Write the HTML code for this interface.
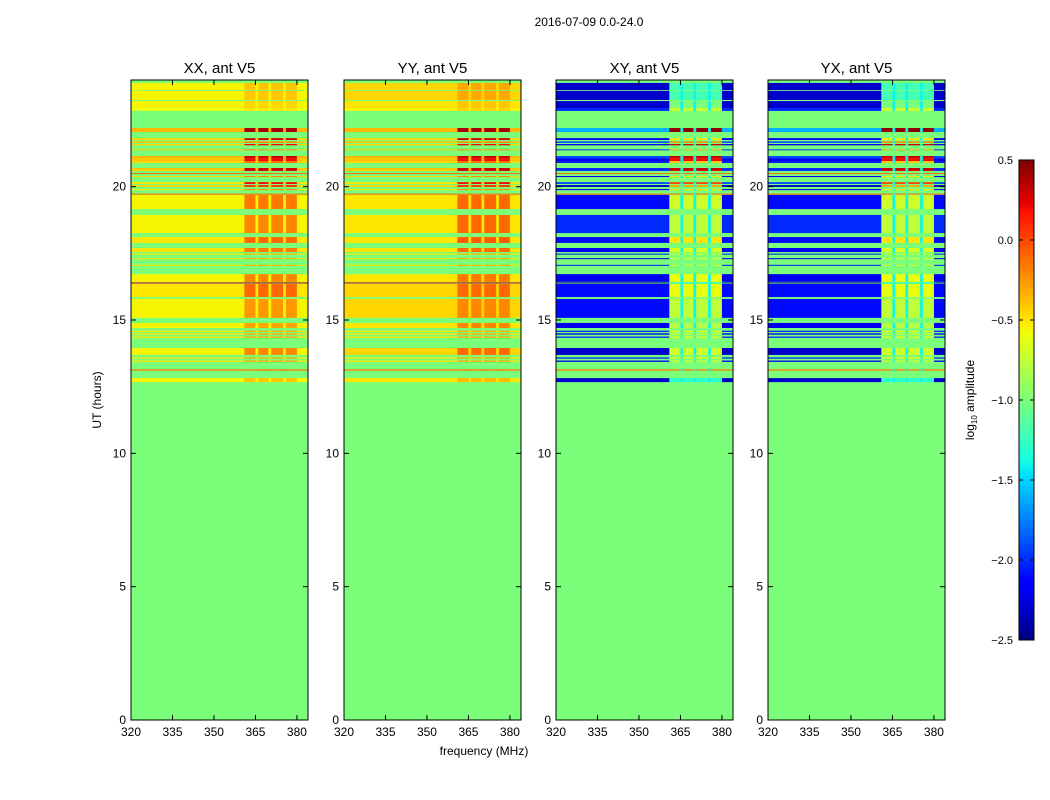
<!DOCTYPE html>
<html><head><meta charset="utf-8"><style>
body{margin:0;background:#fff;}
svg{display:block;font-family:"Liberation Sans",sans-serif;}
</style></head><body>
<svg id="chart" width="1050" height="800">
<rect width="1050" height="800" fill="#fff"/>
<text x="589" y="26" font-size="12" text-anchor="middle">2016-07-09 0.0-24.0</text>
<g id="panels"></g>
<g id="cbar"></g>
</svg>
<script>
// ----- data -----
const panelTitles = ["XX, ant V5","YY, ant V5","XY, ant V5","YX, ant V5"];
const xTicks = [320,335,350,365,380];
const yTicks = [0,5,10,15,20];
const cbarTicks = [0.5,0.0,-0.5,-1.0,-1.5,-2.0,-2.5];
const rowStart = [23.62,23.25,22.95,22.84,22.05,21.75,21.64,21.55,21.37,21.07,20.96,20.89,20.59,20.48,20.36,20.10,19.99,19.87,19.70,19.16,18.26,17.89,17.55,17.45,17.28,17.03,16.43,16.37,15.86,15.08,14.70,14.55,14.45,14.33,13.69,13.55,13.43,13.10,12.67];
const rowEnd   = [23.89,23.59,23.21,22.95,22.20,21.82,21.70,21.60,21.40,21.15,21.07,20.96,20.70,20.51,20.40,20.17,20.06,19.91,19.74,19.69,18.94,18.11,17.70,17.49,17.32,17.07,16.72,16.41,16.35,15.79,14.89,14.60,14.50,14.38,13.95,13.60,13.48,13.15,12.82];
const xxLo = [-0.55,-0.55,-0.55,-0.6,-0.35,-0.45,-0.4,-0.45,-0.4,-0.35,-0.4,-0.45,-0.4,-0.1,-0.45,-0.5,-0.45,-0.5,-0.1,-0.55,-0.55,-0.5,-0.5,-0.5,-0.5,-0.5,-0.55,0.2,-0.5,-0.55,-0.55,-0.5,-0.5,-0.5,-0.55,-0.5,-0.5,-0.15,-0.55];
const xxHi = [-0.4,-0.4,-0.45,-0.5,0.4,0.3,-0.2,0.2,-0.2,0.3,0.2,-0.1,0.3,-0.1,-0.2,0.2,0.1,-0.2,-0.1,-0.15,-0.2,-0.1,-0.15,-0.3,-0.3,-0.3,-0.2,0.3,-0.1,-0.25,-0.3,-0.3,-0.3,-0.3,-0.2,-0.3,-0.3,-0.15,-0.4];
const yyLo = [-0.45,-0.45,-0.5,-0.55,-0.35,-0.45,-0.4,-0.45,-0.4,-0.35,-0.4,-0.45,-0.4,-0.1,-0.45,-0.5,-0.45,-0.5,-0.1,-0.5,-0.5,-0.5,-0.5,-0.5,-0.5,-0.5,-0.5,0.2,-0.45,-0.45,-0.5,-0.5,-0.5,-0.5,-0.45,-0.5,-0.5,-0.15,-0.5];
const yyHi = [-0.3,-0.3,-0.4,-0.45,0.4,0.3,-0.2,0.2,-0.2,0.3,0.2,-0.1,0.3,-0.1,-0.2,0.2,0.1,-0.2,-0.1,-0.1,-0.1,-0.05,-0.1,-0.3,-0.3,-0.3,-0.15,0.3,-0.1,-0.2,-0.2,-0.3,-0.3,-0.3,-0.1,-0.3,-0.3,-0.15,-0.35];
const xyLo = [-2.3,-2.3,-2.3,-2.0,-1.6,-2.2,-1.9,-2.2,-2.0,-1.9,-2.2,-2.1,-2.0,-0.1,-2.2,-1.9,-2.3,-2.2,-0.1,-2.1,-2.0,-2.1,-2.2,-2.0,-2.2,-2.0,-2.2,-2.4,-2.1,-2.1,-2.2,-2.0,-2.2,-2.0,-2.3,-2.0,-2.2,-0.15,-2.3];
const xyHi = [-1.2,-1.2,-1.0,-0.7,0.45,-0.5,-0.2,0.3,-0.3,0.3,0.2,-0.4,0.3,-0.1,-0.5,0.0,-0.3,-0.5,-0.1,-0.7,-0.75,-0.5,-0.65,-0.7,-0.6,-0.7,-0.6,-1.3,-0.6,-0.75,-0.8,-0.6,-0.7,-0.6,-0.7,-0.6,-0.7,-0.15,-1.3];
const yxLo = xyLo.slice();
const yxHi = xyHi.slice();
const seriesLo = [xxLo,yyLo,xyLo,yxLo];
const seriesHi = [xxHi,yyHi,xyHi,yxHi];
const gapVal = [null,null,-1.4,-1.4];
const hotStart = 361, hotEnd = 380, gaps = [[365,366],[369.7,370.7],[375,376]];
const fMin = 320, fMax = 384, tMin = 0, tMax = 24, vMin = -2.5, vMax = 0.5;
const panelLeft = [131,344,556,768];

// ----- helpers -----
const NS = "http://www.w3.org/2000/svg";
function el(tag, attrs, parent){const e=document.createElementNS(NS,tag);for(const k in attrs)e.setAttribute(k,attrs[k]);parent.appendChild(e);return e;}
function interp(pts,x){for(let i=1;i<pts.length;i++){if(x<=pts[i][0]){const a=pts[i-1],b=pts[i];return a[1]+(b[1]-a[1])*(x-a[0])/(b[0]-a[0]);}}return pts[pts.length-1][1];}
function jet(v){let t=(v-vMin)/(vMax-vMin);t=Math.max(0,Math.min(1,t));
 const r=interp([[0,0],[0.35,0],[0.66,1],[0.89,1],[1,0.5]],t);
 const g=interp([[0,0],[0.125,0],[0.375,1],[0.64,1],[0.91,0],[1,0]],t);
 const b=interp([[0,0.5],[0.11,1],[0.34,1],[0.65,0],[1,0]],t);
 return `rgb(${Math.round(r*255)},${Math.round(g*255)},${Math.round(b*255)})`;}
const pTop=80,pBot=720,pw=177;
function yS(h){return pBot-(h-tMin)/(tMax-tMin)*(pBot-pTop);}

const G=document.getElementById('panels');
panelLeft.forEach((L,p)=>{
 const xS=f=>L+(f-fMin)/(fMax-fMin)*pw;
 const g=el('g',{},G);
 
 
 const bg=el('rect',{x:L,y:pTop,width:pw,height:pBot-pTop,fill:jet(-1.0)},g);
 
 
 const lo=seriesLo[p],hi=seriesHi[p];
 for(let i=0;i<rowStart.length;i++){
  const y0=yS(rowEnd[i]),y1=yS(rowStart[i]),h=Math.max(1,y1-y0);
  const segs=[[fMin,hotStart,lo[i]],[hotStart,hotEnd,hi[i]],[hotEnd,fMax,lo[i]]];
  segs.forEach(s=>{
   const r=el('rect',{x:xS(s[0]),y:y0,width:xS(s[1])-xS(s[0]),height:h,fill:jet(s[2])},g);
   
   
  });
  gaps.forEach(gp=>{
   const v=gapVal[p]===null?lo[i]:(hi[i]>gapVal[p]?gapVal[p]:hi[i]);
   const r=el('rect',{x:xS(gp[0]),y:y0,width:xS(gp[1])-xS(gp[0]),height:h,fill:jet(v)},g);
   
   
  });
 }
 const fr=el('rect',{x:L,y:pTop,width:pw,height:pBot-pTop,fill:'none',stroke:'#000','stroke-width':1},g);
 
 
 const tt=el('text',{x:L+pw/2,y:73,'font-size':15,'text-anchor':'middle'},g);tt.textContent=panelTitles[p];
 
 
 xTicks.forEach(f=>{const x=xS(f);
  el('line',{x1:x,x2:x,y1:pBot,y2:pBot-5,stroke:'#000'},g);
  el('line',{x1:x,x2:x,y1:pTop,y2:pTop+5,stroke:'#000'},g);
  const t=el('text',{x:x,y:pBot+16,'font-size':12,'text-anchor':'middle'},g);t.textContent=f;
  
  });
 yTicks.forEach(v=>{const y=yS(v);
  el('line',{x1:L,x2:L+5,y1:y,y2:y,stroke:'#000'},g);
  el('line',{x1:L+pw,x2:L+pw-5,y1:y,y2:y,stroke:'#000'},g);
  const t=el('text',{x:L-5,y:y+4,'font-size':12,'text-anchor':'end'},g);t.textContent=v;
  
  });
});
const yl=el('text',{x:0,y:0,'font-size':12,'text-anchor':'middle',transform:'translate(101,400) rotate(-90)'},G);yl.textContent='UT (hours)';


const xl=el('text',{x:484,y:755,'font-size':12,'text-anchor':'middle'},G);xl.textContent='frequency (MHz)';



// colorbar
const C=document.getElementById('cbar');
const cx=1019,cw=15,ct=160,cb=640;
const cS=v=>cb-(v-vMin)/(vMax-vMin)*(cb-ct);
for(let i=0;i<120;i++){const v0=vMin+(vMax-vMin)*i/120,v1=vMin+(vMax-vMin)*(i+1)/120;
 el('rect',{x:cx,y:cS(v1),width:cw,height:cS(v0)-cS(v1)+0.5,fill:jet((v0+v1)/2)},C);}
const cf=el('rect',{x:cx,y:ct,width:cw,height:cb-ct,fill:'none',stroke:'#000'},C);


cbarTicks.forEach(v=>{const y=cS(v);
 el('line',{x1:cx,x2:cx+4,y1:y,y2:y,stroke:'#000'},C);
 el('line',{x1:cx+cw,x2:cx+cw-4,y1:y,y2:y,stroke:'#000'},C);
 const t=el('text',{x:1013,y:y+4,'font-size':11,'text-anchor':'end'},C);t.textContent=v.toFixed(1).replace('-','\u2212');
 
 });
const cl=el('text',{x:0,y:0,'font-size':12,'text-anchor':'middle',transform:'translate(974,400) rotate(-90)'},C);
cl.innerHTML='log<tspan font-size="8" dy="3">10</tspan><tspan dy="-3"> amplitude</tspan>';


</script>
</body></html>
